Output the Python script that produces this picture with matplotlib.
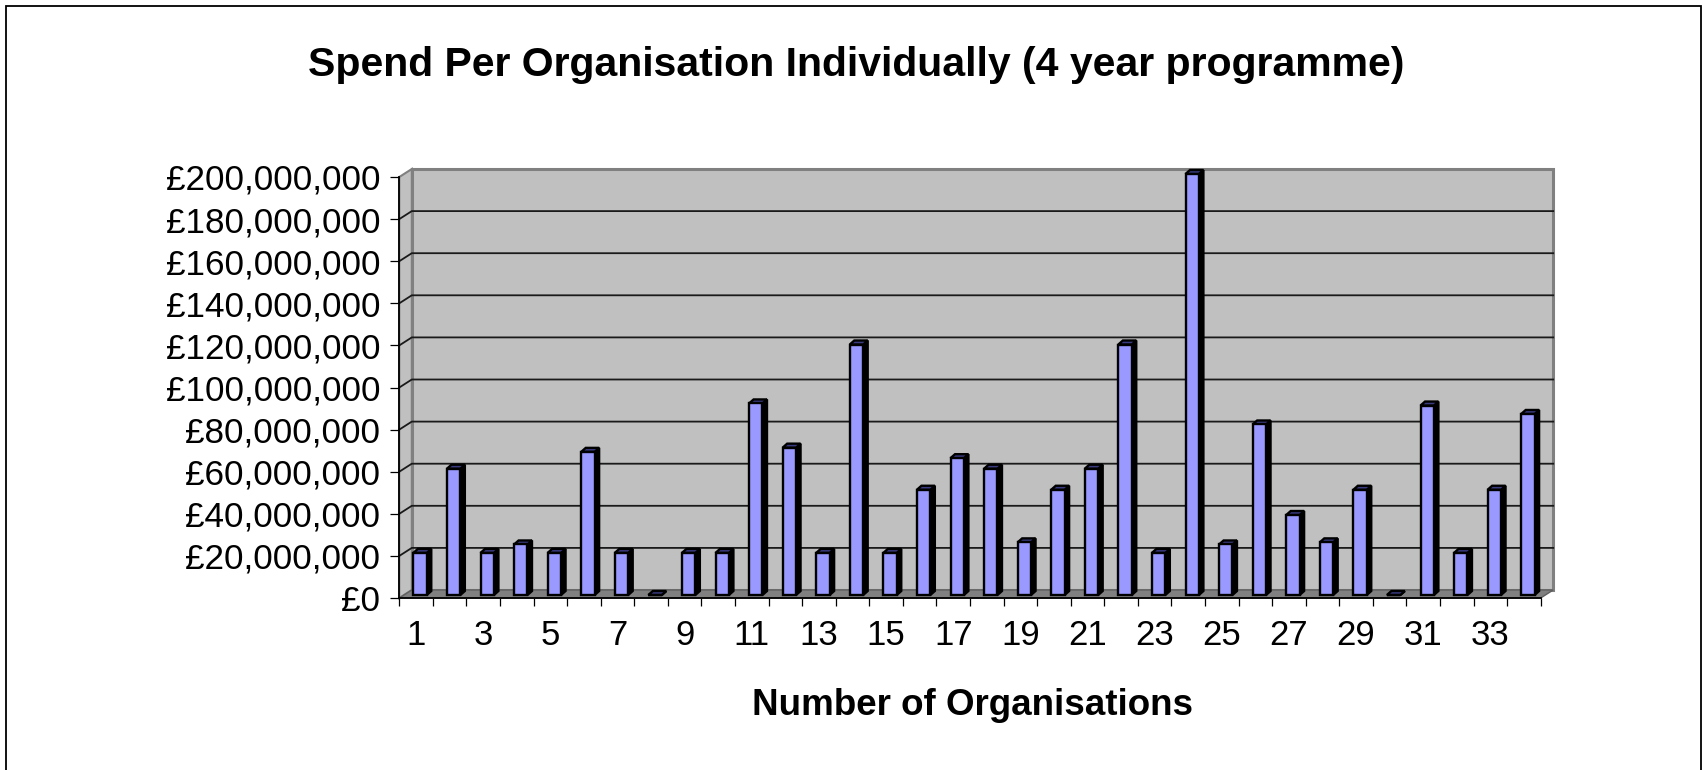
import matplotlib
matplotlib.use("Agg")
import matplotlib.pyplot as plt
from matplotlib.patches import Polygon, Rectangle
from matplotlib.ticker import FuncFormatter
import numpy as np

plt.rcParams['font.family'] = ['Liberation Sans', 'DejaVu Sans']

# data (spend in £ millions)
organisations = list(range(1, 35))
spend_m = [20, 60, 20, 24, 20, 68, 20, 0, 20, 20, 91, 70, 20, 119, 20, 50, 65,
           60, 25, 50, 60, 119, 20, 200, 24, 81, 38, 25, 50, 0, 90, 20, 50, 86]
y_ticks = list(range(0, 200_000_001, 20_000_000))
x_label_pos = [n for n in organisations if n % 2 == 1]

title = "Spend Per Organisation Individually (4 year programme)"
xlabel = "Number of Organisations"

W, H = 1704, 770
fig = plt.figure(figsize=(W / 100, H / 100), dpi=100)
ax = fig.add_axes([399.3 / W, (H - 598) / H, 1141.4 / W, 421 / H])
ax.set_xlim(0.5, 34.5)
ax.set_ylim(0, 200e6)
for s in ax.spines.values():
    s.set_visible(False)
ax.patch.set_visible(False)

# pixel -> data units
sx = 34 / 1141.4
sy = 200e6 / 421

wx, wy = 12.5 * sx, 8 * sy          # depth of the walls
x0, x1 = 0.5, 34.5
ytop = 200e6

# back wall
ax.add_patch(Polygon([(x0 + wx, wy), (x1 + wx, wy), (x1 + wx, ytop + wy), (x0 + wx, ytop + wy)],
                     closed=True, fc='#C0C0C0', ec='#808080', lw=2.2, clip_on=False, zorder=1))
# left wall
ax.add_patch(Polygon([(x0, 0), (x0 + wx, wy), (x0 + wx, ytop + wy), (x0, ytop)],
                     closed=True, fc='#C0C0C0', ec='#808080', lw=1.5, clip_on=False, zorder=1))
# gridlines
for t in y_ticks[1:-1]:
    ax.plot([x0, x0 + wx, x1 + wx], [t, t + wy, t + wy], color='#1a1a1a', lw=1.3,
            clip_on=False, zorder=2)
# floor
ax.add_patch(Polygon([(x0, 0), (x1, 0), (x1 + wx, wy), (x0 + wx, wy)],
                     closed=True, fc='#808080', ec='#606060', lw=1, clip_on=False, zorder=2))

# 3d-ish columns
bw = 13.4 * sx
bdx, bdy = 4.5 * sx, 4 * sy
bx_off, by_off = 4 * sx, 3 * sy
xs = np.array(organisations) + bx_off
vals = np.array(spend_m) * 1e6
ax.bar(xs, vals, width=bw, bottom=by_off, color='#9999FF', edgecolor='black',
       linewidth=1.7, zorder=5, clip_on=False)
for x, v in zip(xs, vals):
    l, r = x - bw / 2, x + bw / 2
    base, top = by_off, by_off + v
    ax.add_patch(Polygon([(r, base), (r + bdx, base + bdy), (r + bdx, top + bdy), (r, top)],
                         closed=True, fc='black', ec='black', lw=1.7, clip_on=False, zorder=4))
    ax.add_patch(Polygon([(l, top), (r, top), (r + bdx, top + bdy), (l + bdx, top + bdy)],
                         closed=True, fc='#3A3A80', ec='black', lw=1.7, clip_on=False, zorder=4))

# front axis lines
ax.plot([x0, x0], [0, ytop], color='black', lw=1.3, clip_on=False, zorder=6)
ax.plot([x0, x1], [0, 0], color='black', lw=1.3, clip_on=False, zorder=6)

# ticks
ax.set_yticks(y_ticks)
ax.yaxis.set_major_formatter(FuncFormatter(lambda v, p: '£{:,.0f}'.format(v)))
ax.tick_params(axis='y', direction='out', length=6.5, width=0.9, pad=7.2,
               labelsize=25.3, colors='black')
ax.set_xticks(np.arange(0.5, 35, 1))
ax.set_xticklabels([])
ax.set_xticks(x_label_pos, minor=True)
ax.set_xticklabels([str(n) for n in x_label_pos], minor=True)
ax.tick_params(axis='x', which='major', direction='out', length=5.8, width=0.9)
ax.tick_params(axis='x', which='minor', length=0, pad=15, labelsize=25)

fig.text(856 / W, 1 - 76 / H, title, ha='center', va='baseline',
         fontsize=29.5, fontweight='bold')
fig.text(972 / W, 1 - 715 / H, xlabel, ha='center', va='baseline',
         fontsize=26.5, fontweight='bold')

# outer frame (open at the bottom edge)
fig.add_artist(Rectangle((5.5 / W, -0.02), (1701 - 5.5) / W, 1.02 - 6 / H,
                         transform=fig.transFigure, fill=False, ec='black', lw=1.3,
                         clip_on=False))

fig.savefig('out.png', dpi=100)
